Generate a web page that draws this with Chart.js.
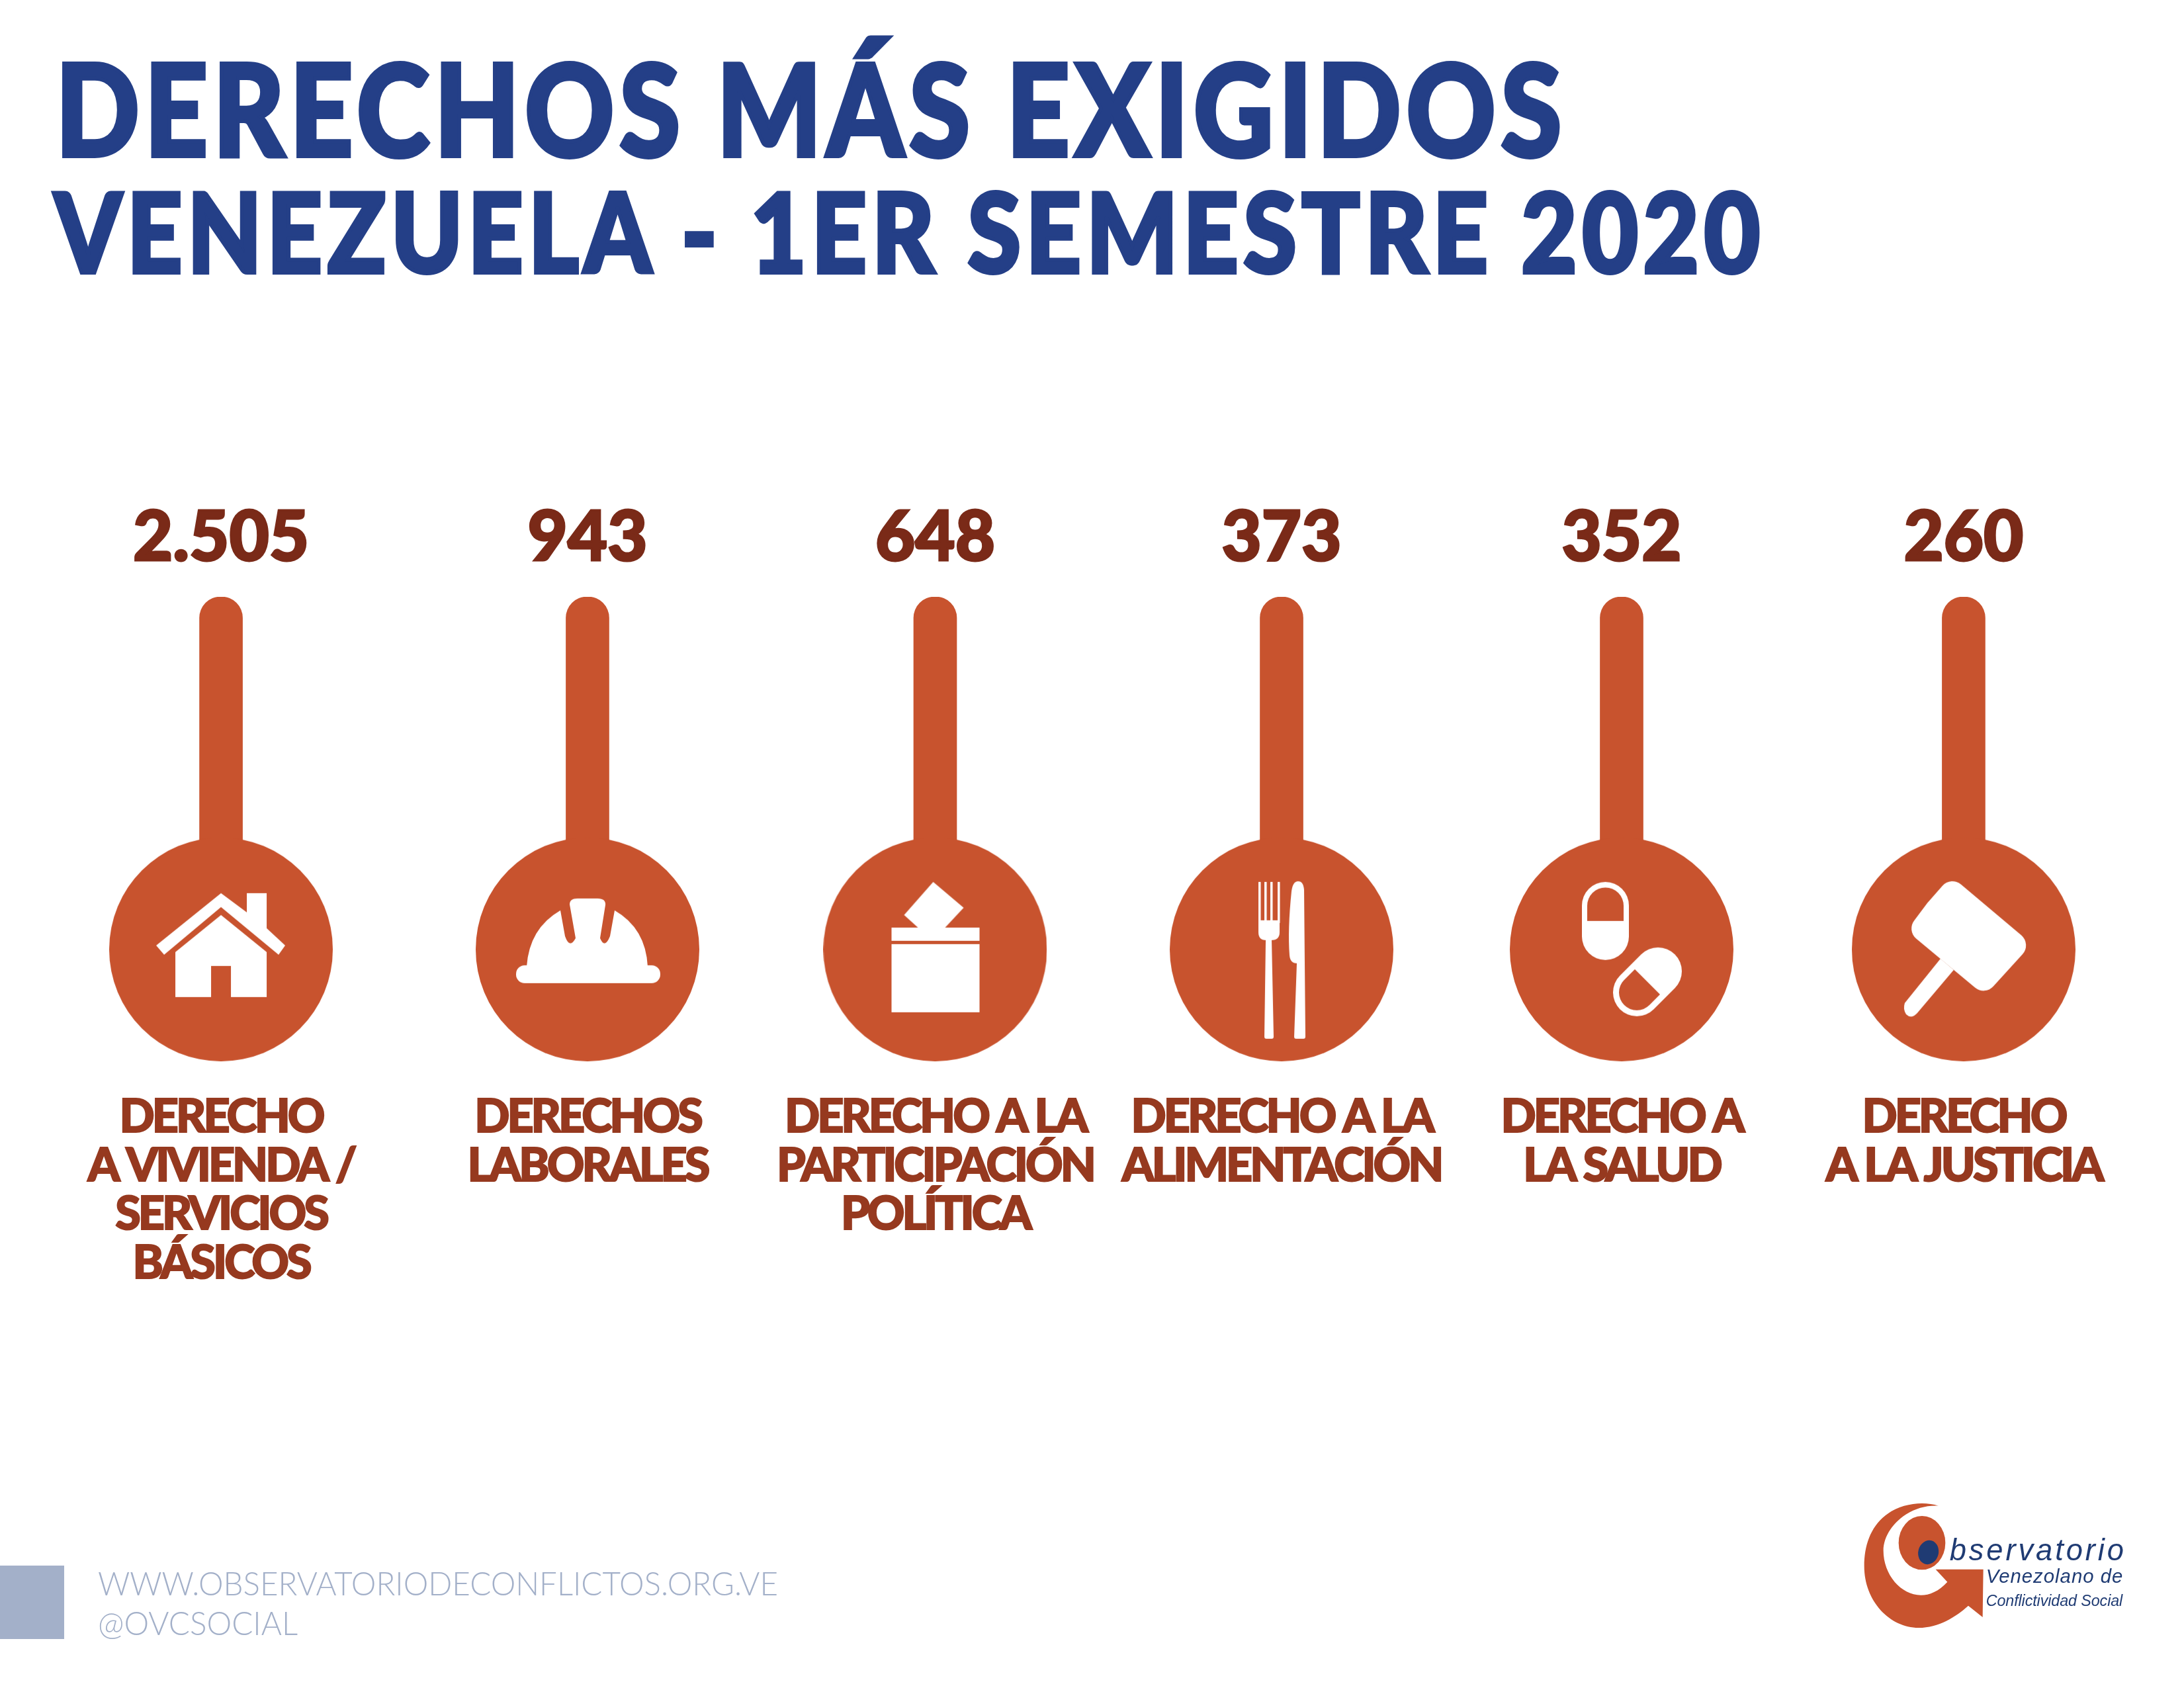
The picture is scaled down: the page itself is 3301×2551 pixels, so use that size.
<!DOCTYPE html>
<html lang="es">
<head>
<meta charset="utf-8">
<title>Derechos más exigidos</title>
<script src="https://cdn.jsdelivr.net/npm/chart.js@4"></script>
<style>
    html, body { margin: 0; padding: 0; background: #fff; }
    #page { position: relative; width: 3301px; height: 2551px; overflow: hidden; }
    #rights-chart { position: absolute; left: 0; top: 0; }
    #overlay { position: absolute; left: 0; top: 0; }
    .title { font-family: Lato, sans-serif; font-weight: 900; fill: #243f87; stroke: #243f87; stroke-width: 6px; letter-spacing: 9px; }
    .footer { font-family: Lato, sans-serif; font-weight: 300; font-size: 50px; fill: #a3b0c9; }
    .logo-text { font-family: "Liberation Sans", sans-serif; font-style: italic; fill: #1f3b73; }
</style>
</head>
<body>
<div id="page">
    <canvas id="rights-chart" width="3301" height="2551"></canvas>
    <svg id="overlay" width="3301" height="2551" viewBox="0 0 3301 2551">
        <text class="title" x="84" y="236" font-size="192" textLength="2284" lengthAdjust="spacingAndGlyphs">DERECHOS MÁS EXIGIDOS</text>
        <text class="title" x="82" y="412" font-size="166" textLength="2586" lengthAdjust="spacingAndGlyphs">VENEZUELA - 1ER SEMESTRE 2020</text>

        <rect x="0" y="2366" width="97" height="111" fill="#a3b0c9"></rect>
        <text class="footer" x="148" y="2411" textLength="1028" lengthAdjust="spacingAndGlyphs">WWW.OBSERVATORIODECONFLICTOS.ORG.VE</text>
        <text class="footer" x="148" y="2471" textLength="302" lengthAdjust="spacingAndGlyphs">@OVCSOCIAL</text>

        <!-- logo, units are 1/3 px -->
        <g transform="translate(2780 2240) scale(0.3333)">
            <path fill="#c8532e" d="M450 107 C380 85 280 95 210 150 C140 205 113 290 113 380 C113 540 230 660 360 660 C450 660 530 610 585 560 L650 612 L653 395 L437 395 L490 452 C450 495 410 512 370 512 C280 512 200 420 200 310 C200 210 310 100 450 107 Z"></path>
            <ellipse fill="#c8532e" cx="375" cy="275" rx="106" ry="122"></ellipse>
            <ellipse fill="#1f3b73" cx="404" cy="318" rx="46" ry="55" transform="rotate(15 404 318)"></ellipse>
            <text class="logo-text" x="500" y="355" font-size="136" textLength="790">bservatorio</text>
            <text class="logo-text" x="665" y="455" font-size="88" textLength="620">Venezolano de</text>
            <text class="logo-text" x="665" y="560" font-size="70" textLength="620">Conflictividad Social</text>
        </g>
    </svg>
</div>

<script>
// Datos
const categories = [
    ['DERECHO', 'A VIVIENDA /', 'SERVICIOS', 'BÁSICOS'],
    ['DERECHOS', 'LABORALES'],
    ['DERECHO A LA', 'PARTICIPACIÓN', 'POLÍTICA'],
    ['DERECHO A LA', 'ALIMENTACIÓN'],
    ['DERECHO A', 'LA SALUD'],
    ['DERECHO', 'A LA JUSTICIA']
];
const values = [2505, 943, 648, 373, 352, 260];

// the sticks are all the same length in the original, they do not follow the value
const stemLevels = [100, 100, 100, 100, 100, 100];
const headLevels = [24, 24, 24, 24, 24, 24];

// the columns are not evenly spaced in the original
const columnCentres = [0.1012, 0.2690, 0.4282, 0.5868, 0.7425, 0.8991];

const ORANGE = '#c8532e';
const HEAD_RADIUS = 169;

class ColumnScale extends Chart.CategoryScale {
    getPixelForValue(value) {
        const index = typeof value === 'number' ? value : this.parse(value);
        return this.chart.width * columnCentres[index];
    }
}
ColumnScale.id = 'columns';
ColumnScale.defaults = Chart.CategoryScale.defaults;
Chart.register(ColumnScale);

function polygon(ctx, pts) {
    ctx.beginPath();
    pts.forEach((p, i) => i ? ctx.lineTo(p[0], p[1]) : ctx.moveTo(p[0], p[1]));
    ctx.closePath();
    ctx.fill();
}

function drawHouse(ctx) {
    polygon(ctx, [[0, -85], [39, -56], [39, -85], [69, -85], [69, -32], [97, -6], [87, 8], [0, -64], [-86, 8], [-98, -6]]);
    polygon(ctx, [[0, -52], [69, 4], [69, 72], [15, 72], [15, 25], [-15, 25], [-15, 72], [-69, 72], [-69, 4]]);
}

function drawHelmet(ctx) {
    ctx.beginPath();
    ctx.roundRect(-108, 24, 218, 27, 13);
    ctx.fill();
    ctx.beginPath();
    ctx.moveTo(-92, 26);
    ctx.quadraticCurveTo(-88, -32, -41, -59);
    ctx.lineTo(-34, -20);
    ctx.quadraticCurveTo(-27, 0, -18, -17);
    ctx.lineTo(-27, -68);
    ctx.quadraticCurveTo(-27, -77, -15, -77);
    ctx.lineTo(15, -77);
    ctx.quadraticCurveTo(28, -77, 27, -67);
    ctx.lineTo(19, -17);
    ctx.quadraticCurveTo(26, 0, 34, -20);
    ctx.lineTo(41, -59);
    ctx.quadraticCurveTo(88, -32, 91, 26);
    ctx.closePath();
    ctx.fill();
}

function drawBallot(ctx) {
    polygon(ctx, [[-3, -102], [43, -63], [15, -33], [67, -33], [67, -13], [-66, -13], [-66, -33], [-26, -33], [-47, -52]]);
    ctx.fillRect(-66, -8, 133, 103);
}

function drawCutlery(ctx) {
    [-35, -26, -17, -6].forEach(x => ctx.fillRect(x, -102, 3.5, 62));
    ctx.beginPath();
    ctx.moveTo(-35, -44);
    ctx.lineTo(-3, -44);
    ctx.lineTo(-3, -26);
    ctx.quadraticCurveTo(-3, -14, -15, -14);
    ctx.lineTo(-12, 132);
    ctx.quadraticCurveTo(-12, 135, -15, 135);
    ctx.lineTo(-23, 135);
    ctx.quadraticCurveTo(-26, 135, -26, 132);
    ctx.lineTo(-24, -14);
    ctx.quadraticCurveTo(-35, -14, -35, -26);
    ctx.closePath();
    ctx.fill();
    ctx.beginPath();
    ctx.moveTo(34, -90);
    ctx.quadraticCurveTo(33, -103, 25, -103);
    ctx.quadraticCurveTo(17, -103, 15, -88);
    ctx.quadraticCurveTo(9, -30, 12, 9);
    ctx.quadraticCurveTo(13, 21, 23, 21);
    ctx.lineTo(19, 132);
    ctx.quadraticCurveTo(19, 135, 22, 135);
    ctx.lineTo(33, 135);
    ctx.quadraticCurveTo(36, 135, 36, 132);
    ctx.closePath();
    ctx.fill();
}

function drawPills(ctx) {
    ctx.beginPath();
    ctx.roundRect(-60, -102, 71, 118, 35.5);
    ctx.fill();
    ctx.beginPath();
    ctx.moveTo(55, 33);
    ctx.lineTo(23, 65);
    ctx.lineCap = 'round';
    ctx.lineWidth = 72;
    ctx.strokeStyle = '#fff';
    ctx.stroke();

    ctx.fillStyle = ORANGE;
    ctx.beginPath();
    ctx.moveTo(-52, -43);
    ctx.lineTo(-52, -66);
    ctx.arc(-24.5, -66, 27.5, Math.PI, 0);
    ctx.lineTo(3, -43);
    ctx.closePath();
    ctx.fill();
    ctx.beginPath();
    ctx.moveTo(20, 30);
    ctx.lineTo(4, 46);
    ctx.arc(23, 65, 27, Math.PI * 1.25, Math.PI * 0.25, true);
    ctx.lineTo(58, 68);
    ctx.closePath();
    ctx.fill();
}

function drawGavel(ctx) {
    const corners = [[-19, -111], [103, -8], [32, 70], [-87, -29]];
    ctx.beginPath();
    ctx.moveTo(-55, -70);
    corners.forEach((c, i) => {
        const next = corners[(i + 1) % 4];
        ctx.arcTo(c[0], c[1], next[0], next[1], 20);
    });
    ctx.closePath();
    ctx.fill();
    ctx.beginPath();
    ctx.moveTo(-35, 14);
    ctx.lineTo(-15, 31);
    ctx.lineTo(-70, 96);
    ctx.quadraticCurveTo(-79, 106, -87, 98);
    ctx.quadraticCurveTo(-92, 90, -89, 81);
    ctx.closePath();
    ctx.fill();
}

// each head is a round picture used as the point style of its column
function makeHead(drawIcon) {
    const canvas = document.createElement('canvas');
    canvas.width = HEAD_RADIUS * 2;
    canvas.height = HEAD_RADIUS * 2;
    const ctx = canvas.getContext('2d');
    ctx.translate(HEAD_RADIUS, HEAD_RADIUS);
    ctx.fillStyle = ORANGE;
    ctx.beginPath();
    ctx.arc(0, 0, HEAD_RADIUS, 0, Math.PI * 2);
    ctx.fill();
    ctx.fillStyle = '#fff';
    drawIcon(ctx);
    return canvas;
}

const valueLabels = {
    id: 'valueLabels',
    beforeDraw(chart) {
        // tighter tracking for the axis labels
        chart.ctx.letterSpacing = '-4px';
    },
    afterDatasetsDraw(chart) {
        const ctx = chart.ctx;
        const bars = chart.getDatasetMeta(0).data;
        ctx.save();
        ctx.letterSpacing = '0px';
        ctx.fillStyle = '#7a2a18';
        ctx.strokeStyle = '#7a2a18';
        ctx.lineWidth = 3;
        ctx.font = '900 104px Lato, sans-serif';
        ctx.textAlign = 'center';
        ctx.textBaseline = 'alphabetic';
        bars.forEach((bar, i) => {
            const text = values[i].toLocaleString('de-DE');
            ctx.fillText(text, bar.x, bar.y - 55);
            ctx.strokeText(text, bar.x, bar.y - 55);
        });
        ctx.restore();
    }
};

new Chart(document.getElementById('rights-chart'), {
    data: {
        labels: categories,
        datasets: [
            {
                type: 'bar',
                data: stemLevels,
                base: 24,
                backgroundColor: ORANGE,
                barThickness: 65,
                borderRadius: { topLeft: 32, topRight: 32, bottomLeft: 0, bottomRight: 0 },
                borderSkipped: false,
                order: 2
            },
            {
                type: 'line',
                data: headLevels,
                showLine: false,
                clip: false,
                // the picture keeps its own size, a big radius here would only pad the layout
                pointRadius: 1,
                pointStyle: [drawHouse, drawHelmet, drawBallot, drawCutlery, drawPills, drawGavel].map(makeHead),
                order: 1
            }
        ]
    },
    options: {
        responsive: false,
        animation: false,
        layout: { padding: { top: 902, left: 0, right: 0, bottom: 0 } },
        plugins: {
            legend: { display: false },
            tooltip: { enabled: false }
        },
        scales: {
            x: {
                type: 'columns',
                grid: { display: false },
                border: { display: false },
                afterFit(scale) {
                    scale.height = 948;
                },
                ticks: {
                    autoSkip: false,
                    maxRotation: 0,
                    padding: 41,
                    color: '#96391f',
                    textStrokeColor: '#96391f',
                    textStrokeWidth: 2,
                    font: { family: 'Lato, sans-serif', weight: '900', size: 70, lineHeight: 1.05 }
                }
            },
            y: { display: false, min: 0, max: 100 }
        }
    },
    plugins: [valueLabels]
});
</script>
</body>
</html>
